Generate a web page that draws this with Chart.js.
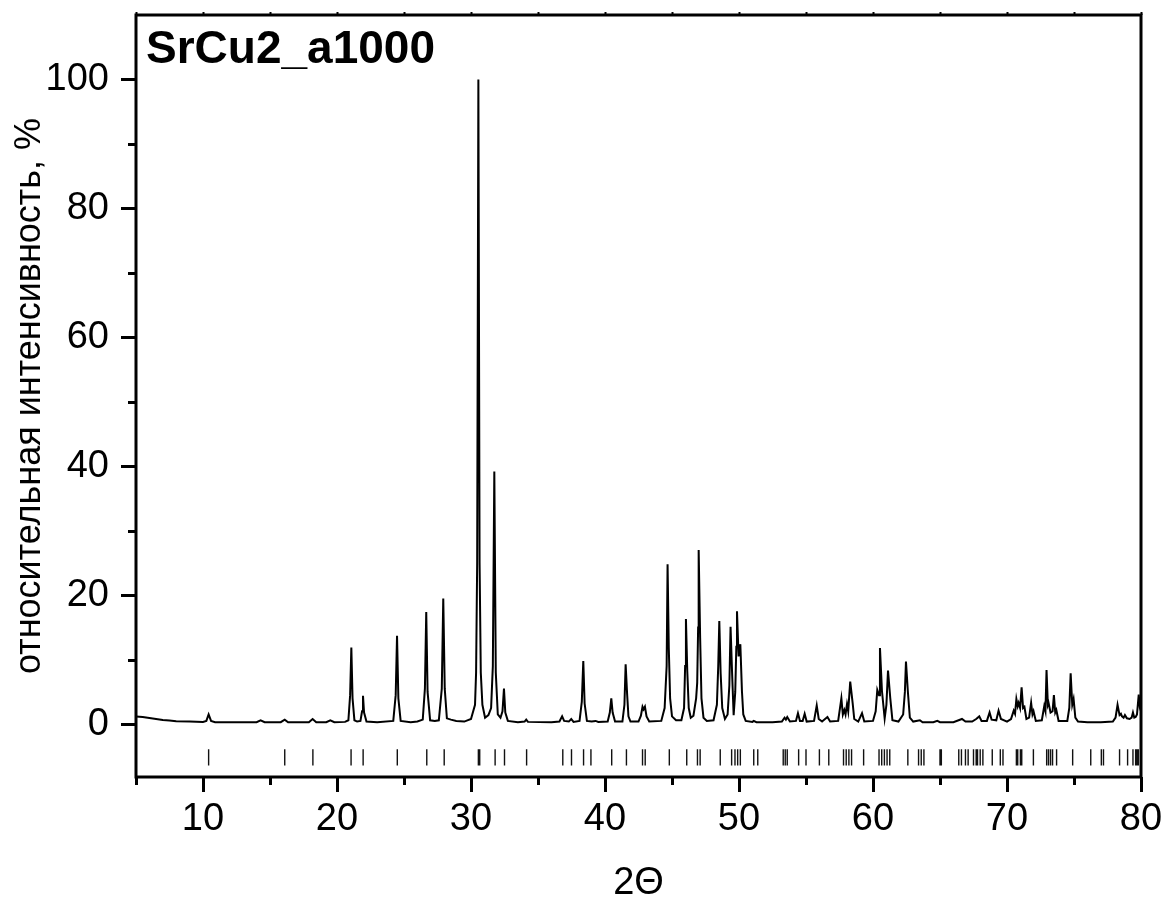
<!DOCTYPE html>
<html>
<head>
<meta charset="utf-8">
<title>SrCu2_a1000</title>
<script src="https://cdn.jsdelivr.net/npm/chart.js@4/dist/chart.umd.min.js"></script>
<style>
  html, body { margin: 0; padding: 0; background: #fff; }
  #wrap { width: 1170px; height: 903px; }
</style>
</head>
<body>
<div id="wrap"><canvas id="xrd" width="1170" height="903"></canvas></div>
<script>
// Measured powder pattern, [2θ, relative intensity %]
const scanLow = [
  [5.0,1.2],[5.5,1.1],[6.0,0.95],[6.5,0.8],[7.0,0.65],[7.5,0.55],[8.0,0.45],[9.0,0.4],
  [10.0,0.35],[10.25,0.5],[10.42,1.5],[10.6,0.5],[10.9,0.3],[12.0,0.3],[14.0,0.3],
  [14.3,0.6],[14.6,0.3],[15.8,0.3],[16.1,0.7],[16.35,0.3],[17.9,0.3],[18.18,0.8],
  [18.45,0.3],[19.2,0.3],[19.5,0.6],[19.8,0.3],[20.6,0.35],
  [20.85,0.6],[20.98,4.5],[21.07,11.9],[21.16,4.0],[21.3,0.6],[21.5,0.4],
  [21.75,0.5],[21.87,2.0],[21.94,4.4],[22.02,1.8],[22.2,0.4],
  [23.0,0.3],[24.2,0.5],[24.38,4.5],[24.48,13.7],[24.58,4.0],[24.75,0.5],
  [25.5,0.3],[26.0,0.4],[26.4,0.7],[26.56,5.5],[26.66,17.4],[26.76,5.0],[26.95,0.6],
  [27.3,0.5],[27.6,0.6],[27.82,5.5],[27.93,19.5],[28.04,5.5],[28.2,0.9],[28.5,0.7],
  [28.9,0.5],[29.5,0.4]
];
const scanMid = [
  [30.0,0.8],[30.3,3.0],[30.38,8.0],[30.46,25.0],[30.55,100.0],[30.64,25.0],[30.73,8.0],
  [30.85,3.0],[31.05,1.0],[31.3,1.4],[31.5,2.5],[31.63,9.0],[31.74,39.2],[31.85,8.0],
  [32.0,1.5],[32.2,1.0],[32.35,2.0],[32.46,5.5],[32.56,1.8],[32.75,0.5],[33.5,0.3],
  [34.0,0.4],[34.12,0.7],[34.25,0.35],[36.0,0.3],[36.6,0.4],[36.8,1.2],[36.95,0.5],
  [37.3,0.4],[37.48,0.8],[37.65,0.35],[38.1,0.5],[38.27,3.5],[38.38,9.8],[38.48,3.2],
  [38.65,0.5],[39.0,0.4],[39.3,0.5],[39.5,0.35],[40.2,0.4],[40.36,1.8],[40.47,4.0],
  [40.57,1.8],[40.75,0.4],[41.3,0.4],[41.45,3.0],[41.54,9.3],[41.65,4.7],[41.75,1.2],
  [41.9,0.4],[42.5,0.4],[42.68,1.3],[42.8,2.7],[42.88,2.3],[42.98,2.7],[43.1,1.2],
  [43.3,0.4],[44.2,0.5],[44.45,2.5],[44.6,9.0],[44.67,24.8],[44.76,11.8],[44.86,4.0],
  [45.0,1.2],[45.3,0.6],[45.7,0.6],[45.9,2.5],[45.98,9.0],[46.04,16.3],[46.14,8.2],
  [46.25,2.5],[46.4,1.0],[46.6,1.3],[46.8,4.0],[46.88,6.4],[46.95,15.0],[46.99,27.0],
  [47.1,13.4],[47.2,4.0],[47.35,1.0],[47.6,0.5],[48.1,0.6],[48.35,3.0],[48.45,9.0],
  [48.53,16.0],[48.63,7.9],[48.75,2.5],[48.95,0.8],[49.15,1.5],[49.28,6.0],[49.37,15.1],
  [49.48,8.2],[49.6,1.4],[49.72,5.0],[49.8,12.0],[49.85,17.5],[49.97,10.5],[50.1,12.4],
  [50.22,5.1],[50.32,1.5],[50.5,0.5]
];
const scanHigh = [
  [51.0,0.35],[51.1,0.5],[51.3,0.3],[52.5,0.3],[53.2,0.4],[53.4,1.0],[53.5,0.7],
  [53.6,1.1],[53.8,0.4],[54.25,0.5],[54.4,1.7],[54.55,0.5],[54.75,0.5],[54.9,1.6],
  [55.05,0.4],[55.6,0.5],[55.8,2.9],[55.95,0.8],[56.2,0.4],[56.6,1.1],[56.8,0.4],
  [57.4,0.5],[57.64,4.0],[57.75,1.5],[57.86,2.2],[57.95,1.5],[58.06,3.1],[58.15,2.0],
  [58.3,6.6],[58.48,3.3],[58.6,0.8],[58.9,0.4],[59.18,1.7],[59.35,0.4],[60.0,0.5],
  [60.2,2.0],[60.32,5.3],[60.45,4.5],[60.52,11.8],[60.67,5.1],[60.87,0.9],[61.0,3.0],
  [61.12,8.3],[61.29,4.0],[61.45,0.6],[61.9,0.4],[62.25,1.5],[62.38,5.0],[62.46,9.7],
  [62.6,5.1],[62.75,1.0],[63.0,0.4],[63.5,0.6],[63.7,0.3],[64.5,0.3],[64.8,0.5],
  [65.0,0.3],[66.0,0.3],[66.64,0.8],[66.9,0.4],[67.4,0.4],[67.7,0.8],[67.93,1.2],
  [68.1,0.5],[68.5,0.5],[68.7,1.8],[68.85,0.7],[69.2,0.6],[69.37,2.1],[69.55,0.8],
  [70.0,0.4],[70.3,0.8],[70.5,2.1],[70.6,1.6],[70.7,3.9],[70.8,2.8],[70.87,3.3],
  [70.98,2.5],[71.09,5.7],[71.2,2.5],[71.3,2.7],[71.45,0.8],[71.65,1.0],[71.8,3.3],
  [71.9,1.5],[71.98,2.0],[72.15,0.5],[72.6,0.6],[72.78,2.8],[72.87,2.0],[72.95,8.4],
  [73.05,3.0],[73.1,3.3],[73.25,1.8],[73.4,2.0],[73.5,4.5],[73.6,1.8],[73.68,2.2],
  [73.85,0.5],[74.5,0.5],[74.65,2.5],[74.75,7.9],[74.87,3.0],[74.97,3.9],[75.1,1.0],
  [75.3,0.4],[76.0,0.3],[77.0,0.3],[77.9,0.4],[78.1,1.0],[78.25,3.0],[78.4,1.4],
  [78.5,1.6],[78.58,1.2],[78.7,1.0],[78.8,1.4],[78.95,0.9],[79.15,0.8],[79.3,1.0],
  [79.4,1.8],[79.5,1.0],[79.6,1.1],[79.7,1.5],[79.83,4.6],[79.92,2.5],[80.0,2.0]
];

// Reference reflection positions (2θ) shown as tick marks under the pattern
const braggPositions = [
  10.42, 16.1, 18.2, 21.05, 21.95, 24.5, 26.7, 28.0, 30.55, 30.65, 31.8, 32.5, 34.15,
  36.85, 37.5, 38.4, 38.95, 40.5, 41.6, 42.8, 43.0, 44.8, 46.1, 46.9, 47.1, 48.6,
  49.45, 49.7, 49.9, 50.1, 51.1, 51.4, 53.3, 53.45, 53.6, 54.45, 55.0, 56.0, 56.7,
  57.8, 58.0, 58.2, 58.4, 59.3, 60.45, 60.65, 60.85, 61.05, 61.25, 62.6, 63.4, 63.6,
  63.8, 65.0, 65.1, 66.4, 66.6, 66.9, 67.1, 67.5, 67.7, 67.8, 68.0, 68.2, 68.9, 69.5,
  69.7, 70.7, 70.8, 71.0, 71.1, 71.97, 72.96, 73.1, 73.25, 73.4, 73.7, 74.9, 76.25,
  77.04, 77.2, 78.4, 79.0, 79.4, 79.6, 79.7, 79.8
];

// Axis ticks
const xMajorTicks = [10, 20, 30, 40, 50, 60, 70, 80];
const xMinorTicks = [5, 15, 25, 35, 45, 55, 65, 75];
const yMajorTicks = [0, 20, 40, 60, 80, 100];
const yMinorTicks = [10, 30, 50, 70, 90];

const X_MIN = 5, X_MAX = 80, Y_MIN = -8.2, Y_MAX = 110;
const MARK_TOP = -3.9, MARK_BOTTOM = -6.4;
const FONT = "'Liberation Sans', Arial, Helvetica, sans-serif";

const scanPoints = scanLow.concat(scanMid, scanHigh).map(([x, y]) => ({ x, y }));

// Each reflection becomes a short vertical segment; null breaks the line between them
const markPoints = [];
braggPositions.forEach(p => {
  markPoints.push({ x: p, y: MARK_TOP }, { x: p, y: MARK_BOTTOM }, { x: p, y: null });
});

// Keep tick-label overhang from shrinking the plotting area
function noEdgePadding(s) {
  s.paddingTop = 0; s.paddingBottom = 0; s.paddingLeft = 0; s.paddingRight = 0;
}

// Box frame, outward major/minor ticks and the sample name
const framePlugin = {
  id: 'frame',
  afterDraw(chart) {
    const { ctx, chartArea: a, scales: { x, y } } = chart;
    ctx.save();
    ctx.strokeStyle = '#000';
    ctx.lineCap = 'butt';

    // ticks on the left axis
    ctx.lineWidth = 3;
    ctx.beginPath();
    yMajorTicks.forEach(v => {
      const py = Math.round(y.getPixelForValue(v)) + 0.5;
      ctx.moveTo(a.left - 15, py); ctx.lineTo(a.left, py);
    });
    yMinorTicks.forEach(v => {
      const py = Math.round(y.getPixelForValue(v)) + 0.5;
      ctx.moveTo(a.left - 8, py); ctx.lineTo(a.left, py);
    });
    // ticks on the bottom axis
    xMajorTicks.forEach(v => {
      const px = Math.round(x.getPixelForValue(v)) + 0.5;
      ctx.moveTo(px, a.bottom); ctx.lineTo(px, a.bottom + 15);
    });
    xMinorTicks.forEach(v => {
      const px = Math.round(x.getPixelForValue(v)) + 0.5;
      ctx.moveTo(px, a.bottom); ctx.lineTo(px, a.bottom + 8);
    });
    ctx.stroke();

    // small ticks on the top edge
    ctx.lineWidth = 2;
    ctx.beginPath();
    xMajorTicks.concat(xMinorTicks).forEach(v => {
      const px = Math.round(x.getPixelForValue(v)) + 0.5;
      ctx.moveTo(px, a.top); ctx.lineTo(px, a.top - 3);
    });
    ctx.stroke();

    // frame
    ctx.lineWidth = 3;
    ctx.strokeRect(a.left, a.top, a.right - a.left, a.bottom - a.top);

    // sample name
    ctx.fillStyle = '#000';
    ctx.font = 'bold 46px ' + FONT;
    ctx.textAlign = 'left';
    ctx.textBaseline = 'alphabetic';
    ctx.fillText('SrCu2_a1000', a.left + 10, a.top + 48);
    ctx.restore();
  }
};

new Chart(document.getElementById('xrd'), {
  type: 'line',
  data: {
    datasets: [
      {
        label: 'SrCu2_a1000',
        data: scanPoints,
        borderColor: '#000',
        borderWidth: 2,
        pointRadius: 0,
        tension: 0,
        fill: false
      },
      {
        label: 'reflections',
        data: markPoints,
        borderColor: '#111',
        borderWidth: 1.4,
        pointRadius: 0,
        tension: 0,
        spanGaps: false,
        fill: false
      }
    ]
  },
  options: {
    responsive: false,
    animation: false,
    events: [],
    layout: { padding: { left: 0, right: 29, top: 15, bottom: 0 } },
    plugins: { legend: { display: false }, tooltip: { enabled: false }, title: { display: false } },
    scales: {
      x: {
        type: 'linear',
        min: X_MIN,
        max: X_MAX,
        afterBuildTicks: s => { s.ticks = xMajorTicks.map(v => ({ value: v })); },
        afterFit: s => { s.height = 126; noEdgePadding(s); },
        grid: { display: false, drawTicks: false },
        border: { display: false },
        ticks: {
          color: '#000',
          font: { family: FONT, size: 38 },
          padding: 20,
          maxRotation: 0,
          autoSkip: false,
          callback: v => String(v)
        },
        title: {
          display: true,
          text: '2Θ',
          color: '#000',
          font: { family: FONT, size: 38, lineHeight: 1.0 },
          padding: { top: 0, bottom: 0 }
        }
      },
      y: {
        type: 'linear',
        min: Y_MIN,
        max: Y_MAX,
        afterBuildTicks: s => { s.ticks = yMajorTicks.map(v => ({ value: v })); },
        afterFit: s => { s.width = 136; noEdgePadding(s); },
        grid: { display: false, drawTicks: false },
        border: { display: false },
        ticks: {
          color: '#000',
          font: { family: FONT, size: 38 },
          padding: 27,
          autoSkip: false,
          callback: v => String(v)
        },
        title: {
          display: true,
          text: 'относительная интенсивность, %',
          color: '#000',
          font: { family: FONT, size: 36, lineHeight: 1.0 },
          padding: { top: 12, bottom: 0 }
        }
      }
    }
  },
  plugins: [framePlugin]
});
</script>
</body>
</html>
